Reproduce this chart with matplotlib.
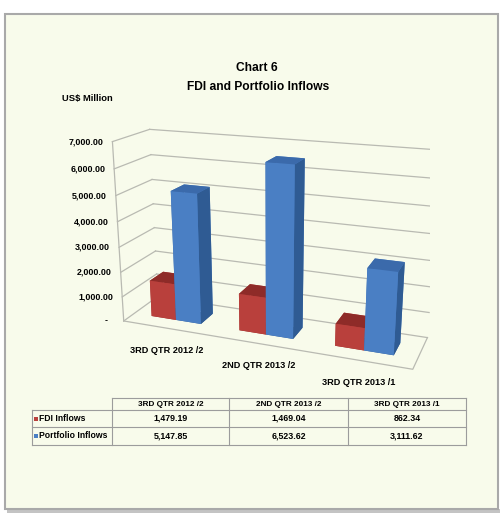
import numpy as np
import matplotlib
matplotlib.use('Agg')
import matplotlib.pyplot as plt
from matplotlib import font_manager
from matplotlib.patches import Rectangle
from mpl_toolkits.mplot3d import proj3d

# data
categories = ['3RD QTR 2012 /2', '2ND QTR 2013 /2', '3RD QTR 2013 /1']
fdi_inflows = [1479.19, 1469.04, 862.34]
portfolio_inflows = [5147.85, 6523.62, 3111.62]
series_names = ['FDI Inflows', 'Portfolio Inflows']
y_ticks = [0, 1000, 2000, 3000, 4000, 5000, 6000, 7000]

# narrow font if there is one, else Arial metrics
have = {f.name for f in font_manager.fontManager.ttflist}
fams = [f for f in ['Liberation Sans Narrow', 'Arial Narrow', 'Liberation Sans'] if f in have]
plt.rcParams['font.family'] = fams + ['DejaVu Sans']
plt.rcParams['font.weight'] = 'bold'
narrow = fams[0] != 'Liberation Sans'
k = 1.0 if narrow else 0.84

red_faces = ['#8e2b28', '#8e2b28', '#b9403c', '#b9403c', '#a33633', '#7f2623']
blue_faces = ['#2f5b93', '#3b6aab', '#4a7fc4', '#4a7fc4', '#3e6fb0', '#2f5b93']
grid_col = '#b9bab2'
bg_col = '#f8fbeb'

fig = plt.figure(figsize=(5.01, 5.24), dpi=100)
fig.patch.set_facecolor('white')

# background axes in pixel coordinates: frame, titles, data table
bg = fig.add_axes([0, 0, 1, 1])
bg.set_xlim(0, 501)
bg.set_ylim(524, 0)
bg.axis('off')
bg.add_patch(Rectangle((7, 509), 493, 4, facecolor='#c4c4c4', edgecolor='none'))
bg.add_patch(Rectangle((5, 14), 493, 495, facecolor=bg_col, edgecolor='#a9a9a9', lw=1.5))

bg.text(257, 68, 'Chart 6', ha='center', va='center', fontsize=10.3 * k)
bg.text(258, 87, 'FDI and Portfolio Inflows', ha='center', va='center', fontsize=10.3 * k)
bg.text(87, 99, 'US$ Million', ha='center', va='center', fontsize=8 * k)

# data table under the chart
col_edges = [32, 112, 229, 348, 466]
row_edges = [398, 410, 427, 445]
tc = '#9c9c9c'
bg.plot([col_edges[1], col_edges[-1]], [row_edges[0]] * 2, color=tc, lw=0.8)
for yy in row_edges[1:]:
    bg.plot([col_edges[0], col_edges[-1]], [yy] * 2, color=tc, lw=0.8)
bg.plot([col_edges[0]] * 2, [row_edges[1], row_edges[-1]], color=tc, lw=0.8)
for xx in col_edges[1:]:
    bg.plot([xx] * 2, [row_edges[0], row_edges[-1]], color=tc, lw=0.8)
for j, cat in enumerate(categories):
    cx = (col_edges[j + 1] + col_edges[j + 2]) / 2
    bg.text(cx, (row_edges[0] + row_edges[1]) / 2, cat, ha='center', va='center',
            fontsize=7 * k)
for i, (name, vals, col) in enumerate(zip(series_names, [fdi_inflows, portfolio_inflows],
                                          [red_faces[2], blue_faces[2]])):
    cy = (row_edges[i + 1] + row_edges[i + 2]) / 2
    bg.add_patch(Rectangle((34, cy - 2), 4, 4, facecolor=col, edgecolor='none'))
    bg.text(39.5, cy, name, ha='left', va='center', fontsize=7.4 * k)
    for j, v in enumerate(vals):
        cx = (col_edges[j + 1] + col_edges[j + 2]) / 2
        bg.text(cx, cy, f'{v:,.2f}', ha='center', va='center', fontsize=7.6 * k)

# 3d column chart
ax = fig.add_axes([0.054, 0.222, 0.96, 0.62], projection='3d', computed_zorder=False)
ax.patch.set_alpha(0)
ax.set_proj_type('persp', focal_length=0.45)
ax.view_init(elev=18, azim=-69)
x0, x1 = -0.5, len(categories) - 0.5
d1 = 0.72
ax.set_xlim(x0, x1)
ax.set_ylim(0, d1)
ax.set_zlim(0, 7000)
ax.set_box_aspect((3, d1, 1.87), zoom=1.11)
ax.set_axis_off()

for t in y_ticks:
    ax.plot([x0, x1], [d1, d1], [t, t], color=grid_col, lw=0.9, zorder=1)
    ax.plot([x0, x0], [0, d1], [t, t], color=grid_col, lw=0.9, zorder=1)
ax.plot([x0, x0], [0, 0], [0, y_ticks[-1]], color=grid_col, lw=0.9, zorder=1)
ax.plot([x0, x1, x1], [0, 0, d1], [0, 0, 0], color=grid_col, lw=0.9, zorder=1)

w = 0.286
bd = 0.286
yb = (d1 - bd) / 2
xs, hs, cols = [], [], []
for j in range(len(categories)):
    xs += [j - w * 1.03, j - w * 0.03]
    hs += [fdi_inflows[j], portfolio_inflows[j]]
    cols += red_faces + blue_faces
n = len(xs)
ax.bar3d(xs, [yb] * n, [0] * n, [w] * n, [bd] * n, hs, color=cols, shade=False,
         edgecolor='none', zorder=5)

# labels: project the 3d anchor points, then write plain 2d text there
fig.canvas.draw()
M = ax.get_proj()


def put(x, y, z, s, dx=0, dy=0, **kw):
    px, py, _ = proj3d.proj_transform(x, y, z, M)
    X, Y = ax.transData.transform((px, py))
    bx, by = bg.transData.inverted().transform((X, Y))
    bg.text(bx + dx, by + dy, s, **kw)


for t in y_ticks:
    label = f'{t:,.2f}' if t else '-'
    put(x0, 0, t, label, dx=-9 if t else -16, ha='right', va='center', fontsize=7.6 * k)
for j, cat in enumerate(categories):
    put(j, 0, 0, cat, dy=22, ha='center', va='center', fontsize=7.8 * k)

fig.savefig('out.png', dpi=100, facecolor=fig.get_facecolor())
